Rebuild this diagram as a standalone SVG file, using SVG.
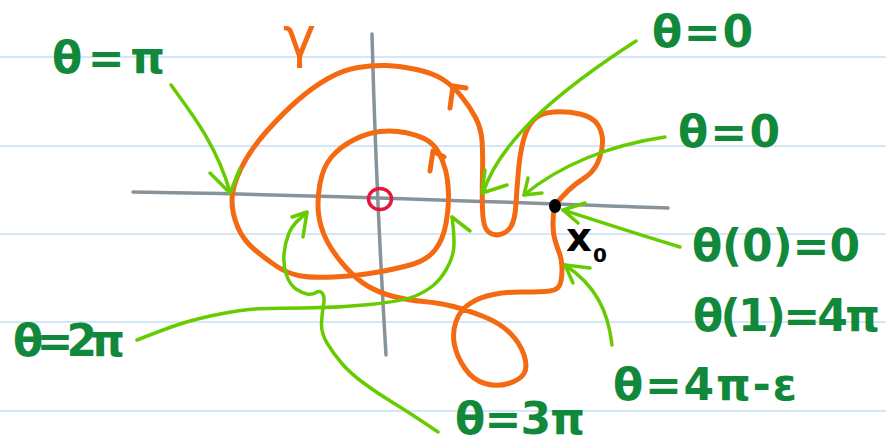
<svg xmlns="http://www.w3.org/2000/svg" width="886" height="445" viewBox="0 0 886 445">
<defs>
<style>
.rule{stroke:#d3e7f7;stroke-width:2;fill:none}
.axis{stroke:#87939a;stroke-width:3.5;fill:none;stroke-linecap:round}
.gamma{stroke:#f46a12;stroke-width:5;fill:none;stroke-linecap:round;stroke-linejoin:round}
.conn{stroke:#66cc00;stroke-width:3.5;fill:none;stroke-linecap:round;stroke-linejoin:round}
.lbl{font-family:"DejaVu Sans","Liberation Sans",sans-serif;fill:#12893a;font-size:44px;font-weight:bold}
</style>
</defs>
<rect width="886" height="445" fill="#ffffff"/>
<g id="ruled">
<line class="rule" x1="0" y1="57" x2="886" y2="57"/>
<line class="rule" x1="0" y1="146" x2="886" y2="146"/>
<line class="rule" x1="0" y1="234" x2="886" y2="234"/>
<line class="rule" x1="0" y1="322" x2="886" y2="322"/>
<line class="rule" x1="0" y1="411" x2="886" y2="411"/>
</g>
<g id="axes">
<path class="axis" d="M133,192 C300,194 500,202 668,208"/>
<path class="axis" d="M372,34 Q376,190 386,355"/>
</g>
<g id="origin">
<ellipse cx="380" cy="199" rx="11.5" ry="10.5" fill="none" stroke="#e5173a" stroke-width="3.5"/>
</g>
<g id="gamma-curve">
<path class="gamma" d="M555,205 Q570,187 581.5,180 Q593,173 597.5,163 Q602,153 602.5,143 Q603,133 598,125 Q593,117 580,114 Q567,111 553.5,112 Q540,113 533.5,120 Q527,127 523.5,140 Q520,153 518.5,170 Q517,187 516,203.5 Q515,220 511,226.5 Q507,233 500,234.5 Q493,236 488,231.5 Q483,227 482.5,210 Q482,193 482.5,173 Q483,153 482,140.5 Q481,128 475.5,117.5 Q470,107 461.5,96.5 Q453,86 443,79.5 Q433,73 416.5,69.5 Q400,66 386.5,65.5 Q373,65 358,67.5 Q343,70 328,78.5 Q313,87 298,100 Q283,113 266.5,131.5 Q250,150 241,168.5 Q232,187 232,200 Q232,213 237.5,226.5 Q243,240 255,250 Q267,260 277,266.5 Q287,273 298.5,275.5 Q310,278 333.5,277 Q357,276 378.5,272 Q400,268 413.5,264 Q427,260 435,250 Q443,240 446,223.5 Q449,207 448.5,193.5 Q448,180 445.5,170 Q443,160 438,151.5 Q433,143 425,139 Q417,135 405,132.5 Q393,130 380,131.5 Q367,133 353.5,140 Q340,147 331.5,157 Q323,167 320,183.5 Q317,200 318.5,213.5 Q320,227 326.5,240 Q333,253 345,266.5 Q357,280 368.5,286.5 Q380,293 393.5,296.5 Q407,300 423.5,301.5 Q440,303 453.5,306.5 Q467,310 483.5,316.5 Q500,323 510,333 Q520,343 524,355 Q528,367 524,373.5 Q520,380 508.5,383.5 Q497,387 485,383.5 Q473,380 465,368.5 Q457,357 454.5,345 Q452,333 456,321.5 Q460,310 470,303.5 Q480,297 493.5,294.5 Q507,292 520,292 Q533,292 545,291.5 Q557,291 559.5,285.5 Q562,280 562,270 Q562,260 559.5,253.5 Q557,247 555,240 Q553,233 553,223 Q553,213 555,205"/>
<polyline class="gamma" points="450,108 453,86 466,88"/>
<polyline class="gamma" points="430,171 433,151 444,157"/>
<text x="283" y="56" font-family="DejaVu Sans, sans-serif" font-size="56" fill="#f46a12">γ</text>
</g>
<g id="x0">
<ellipse cx="555" cy="206" rx="6" ry="7" fill="#000000"/>
<text x="566" y="251" font-family="DejaVu Sans, sans-serif" font-weight="bold" font-size="40" fill="#000000">x</text>
<text x="593" y="262" font-family="DejaVu Sans, sans-serif" font-weight="bold" font-size="20" fill="#000000">0</text>
</g>
<g id="connectors">
<path class="conn" d="M171,85 C185,105 215,140 230,192"/>
<polyline class="conn" points="210,173 230,193 240,169"/>
<path class="conn" d="M636,41 C560,90 500,140 483,193"/>
<polyline class="conn" points="485,170 482,193 507,185"/>
<path class="conn" d="M665,137 C610,145 560,165 524,195"/>
<polyline class="conn" points="528,178 524,195 542,193"/>
<path class="conn" d="M680,247 C640,235 600,222 563,210"/>
<polyline class="conn" points="585,203 563,210 578,223"/>
<path class="conn" d="M612,345 C608,310 595,285 565,265"/>
<polyline class="conn" points="590,268 565,265 573,283"/>
<path class="conn" d="M137,340 Q170,327 185,322.5 Q200,318 220,314 Q240,310 255,309 Q270,308 303.5,308 Q337,308 370,304.5 Q403,301 414,296.5 Q425,292 432.5,286 Q440,280 446,270 Q452,260 453.5,250 Q455,240 452,217"/>
<polyline class="conn" points="452,217 470,231"/>
<path class="conn" d="M438,432 Q410,413 393.5,403 Q377,393 363.5,383 Q350,373 341.5,363 Q333,353 327,343 Q321,333 321.5,323 Q322,313 323.5,305 Q325,297 322.5,293.5 Q320,290 316,292.5 Q312,295 307,294 Q302,293 296,289 Q290,285 286.5,275 Q283,265 284,254 Q285,243 289,233 Q293,223 307,213"/>
<polyline class="conn" points="292,217 307,212 303,237"/>
</g>
<g id="label-pi"><text class="lbl" x="52" y="73" font-size="48" textLength="113" lengthAdjust="spacing">θ=π</text></g>
<g id="label-zero-top"><text class="lbl" x="652" y="47" textLength="101" lengthAdjust="spacing">θ=0</text></g>
<g id="label-zero-mid"><text class="lbl" x="678" y="147" textLength="102" lengthAdjust="spacing">θ=0</text></g>
<g id="label-theta0"><text class="lbl" x="692" y="261" textLength="168" lengthAdjust="spacing">θ(0)=0</text></g>
<g id="label-theta1"><text class="lbl" x="693" y="331" textLength="187" lengthAdjust="spacing">θ(1)=4π</text></g>
<g id="label-4pi-eps"><text class="lbl" x="613" y="400" font-size="48" textLength="184" lengthAdjust="spacing">θ=4π-ε</text></g>
<g id="label-2pi"><text class="lbl" x="13" y="356" textLength="112" lengthAdjust="spacing">θ=2π</text></g>
<g id="label-3pi"><text class="lbl" x="455" y="434" font-size="40" textLength="130" lengthAdjust="spacing">θ=3π</text></g>
</svg>
